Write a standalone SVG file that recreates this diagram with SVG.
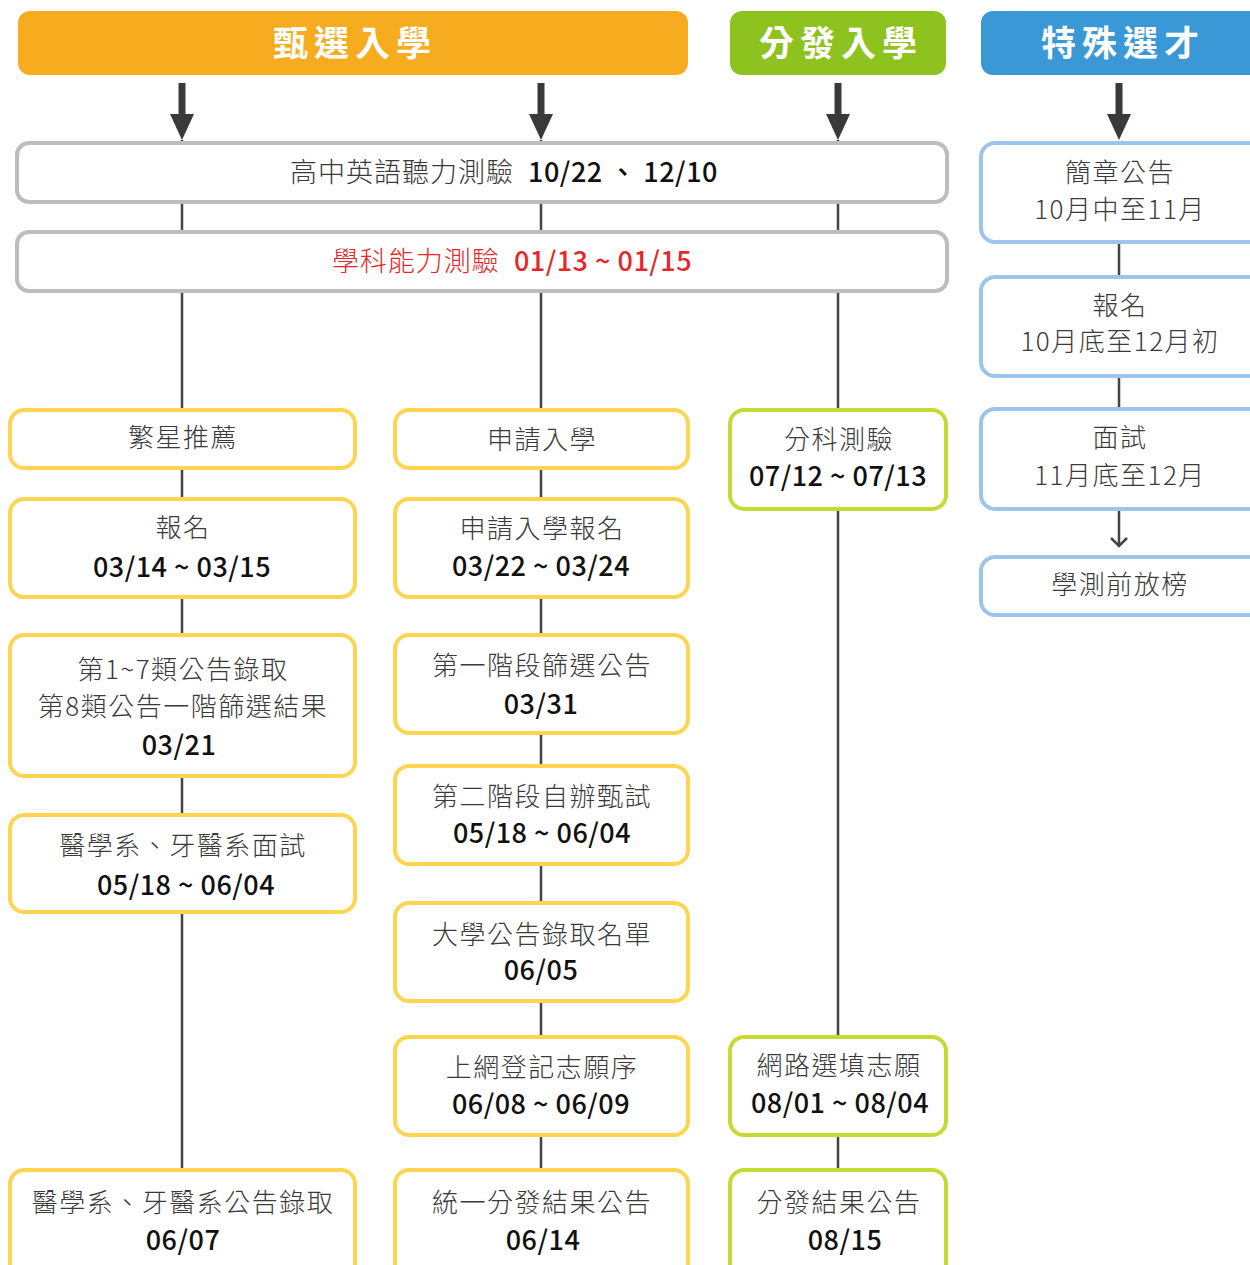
<svg xmlns="http://www.w3.org/2000/svg" width="1250" height="1265" viewBox="0 0 1250 1265">
<style>
text{font-family:"Noto Sans CJK TC","Noto Sans CJK SC",sans-serif;text-anchor:middle}
.hd{fill:#fff;font-size:35px;font-weight:700;letter-spacing:6px}
.t{fill:#3a3a3a;font-size:26px;font-weight:300;letter-spacing:1.5px}
.tb{fill:#3a3a3a;font-size:27px;font-weight:300;letter-spacing:1px}
.n{fill:#111;font-size:27px;font-weight:500;letter-spacing:0.5px}
.red{fill:#E8262A}
.gry{fill:#fff;stroke:#BDBDBD;stroke-width:4}
.yel{fill:#fff;stroke:#FDD550;stroke-width:4}
.grn{fill:#fff;stroke:#C5DA35;stroke-width:4}
.blu{fill:#fff;stroke:#9DC5EA;stroke-width:4}
.ln{stroke:#444;stroke-width:2.5;fill:none}
.ar{fill:#3a3a3a}
</style>
<defs>
<path id="bigArrow" d="M-3.5,0 H3.5 V31 H12 L0,57 L-12,31 H-3.5 Z"/>
</defs>
<g id="connectors">
<line class="ln" x1="182" y1="140" x2="182" y2="1170"/>
<line class="ln" x1="541" y1="140" x2="541" y2="1170"/>
<line class="ln" x1="838" y1="140" x2="838" y2="1170"/>
<line class="ln" x1="1119" y1="242" x2="1119" y2="409"/>
<path class="ln" d="M1119,510 V546 M1111,538 L1119,546 L1127,538"/>
<use href="#bigArrow" class="ar" x="182" y="83"/>
<use href="#bigArrow" class="ar" x="541" y="83"/>
<use href="#bigArrow" class="ar" x="838" y="83"/>
<use href="#bigArrow" class="ar" x="1119" y="83"/>
</g>
<g id="hdr-screening">
<rect x="18" y="11" width="670" height="64" rx="12" fill="#F6AC1E"/>
<text class="hd" x="355" y="56">甄選入學</text>
</g>
<g id="hdr-placement">
<rect x="730" y="11" width="216" height="64" rx="12" fill="#8DC21F"/>
<text class="hd" x="841" y="56">分發入學</text>
</g>
<g id="hdr-special">
<rect x="981" y="11" width="285" height="64" rx="12" fill="#3A98D6"/>
<text class="hd" x="1123" y="56">特殊選才</text>
</g>
<g id="gept">
<rect class="gry" x="17" y="143" width="930" height="59" rx="12"/>
<text x="504" y="182"><tspan class="tb">高中英語聽力測驗</tspan><tspan class="n" dx="14">10/22 、 12/10</tspan></text>
</g>
<g id="gsat">
<rect class="gry" x="17" y="232" width="930" height="59" rx="12"/>
<text x="512" y="271"><tspan class="tb red">學科能力測驗</tspan><tspan class="n red" dx="14">01/13 ~ 01/15</tspan></text>
</g>
<g id="c1-star">
<rect class="yel" x="10" y="410" width="345" height="58" rx="14"/>
<text class="t" x="183" y="447">繁星推薦</text>
</g>
<g id="c1-reg">
<rect class="yel" x="10" y="499" width="345" height="98" rx="14"/>
<text class="t" x="183" y="537">報名</text>
<text class="n" x="182" y="577">03/14 ~ 03/15</text>
</g>
<g id="c1-result">
<rect class="yel" x="10" y="635" width="345" height="141" rx="14"/>
<text class="t" x="183" y="679">第1~7類公告錄取</text>
<text class="t" x="183" y="716">第8類公告一階篩選結果</text>
<text class="n" x="179" y="755">03/21</text>
</g>
<g id="c1-interview">
<rect class="yel" x="10" y="815" width="345" height="97" rx="14"/>
<text class="t" x="183" y="855">醫學系、牙醫系面試</text>
<text class="n" x="186" y="895">05/18 ~ 06/04</text>
</g>
<g id="c1-admit">
<rect class="yel" x="10" y="1170" width="345" height="110" rx="14"/>
<text class="t" x="183" y="1212">醫學系、牙醫系公告錄取</text>
<text class="n" x="183" y="1250">06/07</text>
</g>
<g id="c2-apply">
<rect class="yel" x="395" y="410" width="293" height="58" rx="14"/>
<text class="t" x="542" y="449">申請入學</text>
</g>
<g id="c2-reg">
<rect class="yel" x="395" y="499" width="293" height="98" rx="14"/>
<text class="t" x="542" y="538">申請入學報名</text>
<text class="n" x="541" y="576">03/22 ~ 03/24</text>
</g>
<g id="c2-stage1">
<rect class="yel" x="395" y="635" width="293" height="98" rx="14"/>
<text class="t" x="542" y="675">第一階段篩選公告</text>
<text class="n" x="541" y="714">03/31</text>
</g>
<g id="c2-stage2">
<rect class="yel" x="395" y="766" width="293" height="98" rx="14"/>
<text class="t" x="542" y="806">第二階段自辦甄試</text>
<text class="n" x="542" y="843">05/18 ~ 06/04</text>
</g>
<g id="c2-list">
<rect class="yel" x="395" y="903" width="293" height="98" rx="14"/>
<text class="t" x="542" y="944">大學公告錄取名單</text>
<text class="n" x="541" y="980">06/05</text>
</g>
<g id="c2-order">
<rect class="yel" x="395" y="1037" width="293" height="98" rx="14"/>
<text class="t" x="542" y="1077">上網登記志願序</text>
<text class="n" x="541" y="1114">06/08 ~ 06/09</text>
</g>
<g id="c2-result">
<rect class="yel" x="395" y="1170" width="293" height="110" rx="14"/>
<text class="t" x="542" y="1212">統一分發結果公告</text>
<text class="n" x="543" y="1250">06/14</text>
</g>
<g id="c3-exam">
<rect class="grn" x="730" y="410" width="216" height="99" rx="14"/>
<text class="t" x="839" y="449">分科測驗</text>
<text class="n" x="838" y="486">07/12 ~ 07/13</text>
</g>
<g id="c3-fill">
<rect class="grn" x="730" y="1037" width="216" height="98" rx="14"/>
<text class="t" x="839" y="1075">網路選填志願</text>
<text class="n" x="840" y="1113">08/01 ~ 08/04</text>
</g>
<g id="c3-result">
<rect class="grn" x="730" y="1170" width="216" height="110" rx="14"/>
<text class="t" x="839" y="1212">分發結果公告</text>
<text class="n" x="845" y="1250">08/15</text>
</g>
<g id="c4-brochure">
<rect class="blu" x="981" y="143" width="285" height="99" rx="14"/>
<text class="t" x="1120" y="182">簡章公告</text>
<text class="t" x="1120" y="219">10月中至11月</text>
</g>
<g id="c4-reg">
<rect class="blu" x="981" y="277" width="285" height="99" rx="14"/>
<text class="t" x="1120" y="315">報名</text>
<text class="t" x="1120" y="351">10月底至12月初</text>
</g>
<g id="c4-interview">
<rect class="blu" x="981" y="409" width="285" height="100" rx="14"/>
<text class="t" x="1120" y="447">面試</text>
<text class="t" x="1120" y="485">11月底至12月</text>
</g>
<g id="c4-result">
<rect class="blu" x="981" y="557" width="285" height="58" rx="14"/>
<text class="t" x="1120" y="594">學測前放榜</text>
</g>
</svg>
